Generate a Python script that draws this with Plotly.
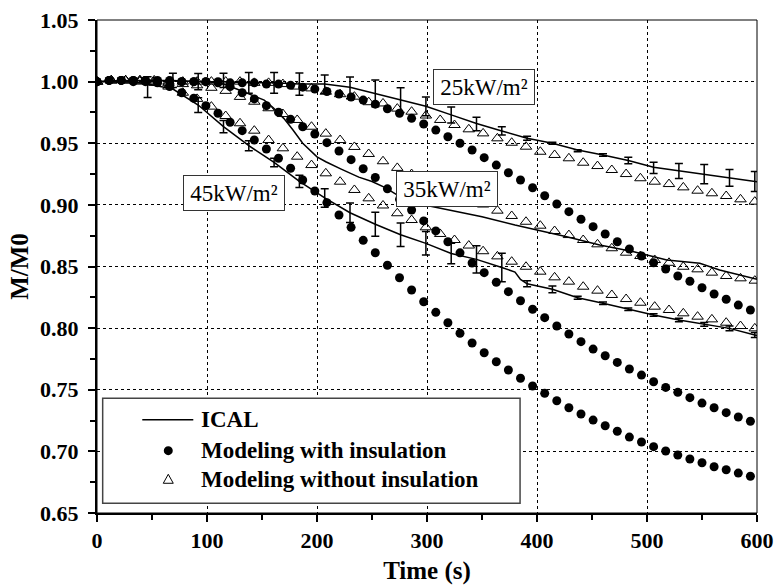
import plotly.graph_objects as go

# ---------------- data ----------------
t_dot = [0, 11, 22, 33, 44, 55, 66, 77, 88, 99, 110, 121, 132, 143, 154, 165, 176, 187, 198,
         209, 220, 231, 242, 253, 264, 275, 286, 297, 308, 319, 330, 341, 352, 363, 374, 385,
         396, 407, 418, 429, 440, 451, 462, 473, 484, 495, 506, 517, 528, 539, 550, 561, 572,
         583, 594]
t_tri = [0, 13, 26, 39, 52, 65, 78, 91, 104, 117, 130, 143, 156, 169, 182, 195, 208, 221, 234,
         247, 260, 273, 286, 299, 312, 325, 338, 351, 364, 377, 390, 403, 416, 429, 442, 455,
         468, 481, 494, 507, 520, 533, 546, 559, 572, 585, 598]

with25 = [1.000, 1.001, 1.001, 1.001, 1.001, 1.001, 1.001, 1.000, 1.000, 1.000, 1.000, 0.999,
          0.999, 0.999, 0.998, 0.998, 0.997, 0.9955, 0.994, 0.992, 0.990, 0.9875, 0.985, 0.9817,
          0.978, 0.9743, 0.9702, 0.9656, 0.9607, 0.9553, 0.9500, 0.9445, 0.9383, 0.9323, 0.9261,
          0.9202, 0.9139, 0.9074, 0.9007, 0.8945, 0.8883, 0.8823, 0.8764, 0.8701, 0.8642, 0.8585,
          0.8530, 0.8480, 0.8423, 0.8380, 0.8328, 0.8277, 0.8234, 0.8187, 0.8147]
with35 = [1.000, 1.001, 1.001, 1.001, 1.001, 1.000, 1.000, 1.000, 1.000, 1.000, 0.999, 0.996,
          0.991, 0.986, 0.9805, 0.9752, 0.9694, 0.9634, 0.9575, 0.9505, 0.9437, 0.9367, 0.9293,
          0.9222, 0.9130, 0.9045, 0.8958, 0.8870, 0.8789, 0.8701, 0.8611, 0.8528, 0.8450, 0.8372,
          0.8296, 0.8222, 0.8153, 0.8085, 0.8017, 0.7952, 0.7890, 0.7830, 0.7776, 0.7722, 0.7668,
          0.7619, 0.7565, 0.7519, 0.7479, 0.7436, 0.7392, 0.7354, 0.7314, 0.7279, 0.7244]
with45 = [1.000, 1.001, 1.001, 1.000, 1.000, 0.999, 0.996, 0.991, 0.9865, 0.9805, 0.9743, 0.9670,
          0.9602, 0.9526, 0.9453, 0.9378, 0.9297, 0.9202, 0.9113, 0.9018, 0.8918, 0.8818, 0.8712,
          0.8612, 0.8510, 0.8409, 0.8309, 0.8214, 0.8128, 0.8044, 0.7958, 0.7879, 0.7800, 0.7727,
          0.7660, 0.7593, 0.7530, 0.7471, 0.7411, 0.7354, 0.7303, 0.7254, 0.7208, 0.7163, 0.7116,
          0.7076, 0.7038, 0.7003, 0.6970, 0.6938, 0.6908, 0.6875, 0.6851, 0.6824, 0.6798]

without25 = [1.000, 1.001, 1.001, 1.001, 1.001, 1.000, 1.000, 1.000, 1.000, 1.000, 1.000, 0.999,
             0.999, 0.998, 0.996, 0.9945, 0.9918, 0.9898, 0.9878, 0.9833, 0.9823, 0.9781, 0.9756,
             0.9725, 0.9689, 0.9648, 0.9613, 0.9580, 0.9540, 0.9504, 0.9472, 0.9431, 0.9405,
             0.9378, 0.9342, 0.9315, 0.9283, 0.9250, 0.9216, 0.9188, 0.9169, 0.9142, 0.9115,
             0.9094, 0.9072, 0.9045, 0.9026]
without35 = [1.000, 1.001, 1.001, 1.001, 1.000, 0.999, 0.998, 0.997, 0.995, 0.9925, 0.9876, 0.9837,
             0.9784, 0.9737, 0.9689, 0.9634, 0.9578, 0.9526, 0.9470, 0.9413, 0.9354, 0.9300, 0.925,
             0.920, 0.914, 0.909, 0.904, 0.9003, 0.8953, 0.8910, 0.8863, 0.8831, 0.8788, 0.8755,
             0.8715, 0.8680, 0.8648, 0.8612, 0.8585, 0.8553, 0.8530, 0.8498, 0.8477, 0.8450,
             0.8423, 0.8404, 0.8385]
without45 = [1.000, 1.001, 1.001, 1.000, 0.999, 0.996, 0.991, 0.986, 0.9797, 0.9721, 0.9662, 0.9602,
             0.9526, 0.9459, 0.9391, 0.9323, 0.9256, 0.9188, 0.9121, 0.9053, 0.8995, 0.8932, 0.8877,
             0.8818, 0.8764, 0.8715, 0.8670, 0.8624, 0.8582, 0.8539, 0.8498, 0.8458, 0.8412,
             0.8377, 0.8336, 0.8304, 0.8269, 0.8236, 0.8206, 0.8174, 0.8147, 0.8120, 0.8093,
             0.8071, 0.8044, 0.8017, 0.7998]

# ICAL measured curves
ical25_t = [0, 23, 46, 69, 92, 115, 138, 161, 184, 207, 230, 253, 276, 299, 322, 345, 368, 391,
            414, 437, 460, 483, 506, 529, 552, 575, 598, 600]
ical25_v = [1.000, 1.001, 1.001, 1.001, 1.000, 1.000, 0.999, 0.999, 0.998, 0.998, 0.9955, 0.9905,
            0.985, 0.980, 0.973, 0.966, 0.960, 0.954, 0.950, 0.9445, 0.9405, 0.936, 0.9305,
            0.9275, 0.925, 0.922, 0.919, 0.9188]
ical35_t = [0, 50, 100, 115, 127, 140, 152, 160, 170, 178, 187, 200, 208, 222, 238, 250, 262,
            272, 285, 300, 322, 350, 380, 403, 427, 457, 488, 518, 548, 566, 600]
ical35_v = [1.000, 1.001, 1.000, 0.998, 0.994, 0.989, 0.985, 0.979, 0.970, 0.961, 0.950, 0.939,
            0.935, 0.929, 0.9225, 0.919, 0.914, 0.9085, 0.9025, 0.8995, 0.8953, 0.8904, 0.8837,
            0.879, 0.8742, 0.8674, 0.862, 0.8553, 0.8526, 0.8472, 0.8396]
ical45_t = [0, 23, 46, 69, 92, 115, 138, 161, 184, 207, 230, 253, 276, 299, 322, 345, 368, 380,
            385, 391, 414, 437, 460, 483, 506, 529, 552, 575, 598, 600]
ical45_v = [1.000, 1.001, 0.998, 0.994, 0.981, 0.9635, 0.948, 0.9344, 0.919, 0.9056, 0.8936,
            0.8843, 0.8758, 0.8688, 0.8605, 0.8558, 0.8492, 0.8455, 0.8395, 0.836, 0.8315, 0.8246,
            0.8201, 0.8153, 0.8106, 0.8066, 0.8031, 0.7998, 0.7944, 0.7940]

# ICAL error bars (time, centre, half-height)
err25_t = [69, 92, 115, 138, 161, 184, 207, 230, 253, 276, 299, 322, 345, 368, 391, 414, 437,
           460, 483, 506, 529, 552, 575, 598]
err25_c = [1.001, 1.000, 1.001, 0.999, 0.999, 0.998, 0.998, 0.995, 0.9905, 0.985, 0.980, 0.973,
           0.9656, 0.960, 0.954, 0.950, 0.944, 0.9405, 0.936, 0.930, 0.9275, 0.925, 0.922, 0.919]
err25_h = [0.0057, 0.0065, 0.0057, 0.0084, 0.0084, 0.009, 0.0074, 0.0088, 0.0108, 0.0100, 0.0076,
           0.0065, 0.0054, 0.0034, 0.0016, 0.0008, 0.0008, 0.001, 0.0026, 0.0045, 0.0061, 0.0078,
           0.0068, 0.0081]
err45_t = [46, 92, 115, 138, 161, 184, 207, 230, 253, 276, 299, 322, 345, 368, 391, 414, 437,
           460, 483, 506, 529, 552, 575, 598]
err45_c = [0.9956, 0.981, 0.9635, 0.948, 0.9344, 0.919, 0.9056, 0.8936, 0.8843, 0.8758, 0.8688,
           0.8605, 0.8558, 0.8492, 0.836, 0.8315, 0.8246, 0.8201, 0.8153, 0.8106, 0.8066, 0.8031,
           0.7998, 0.7944]
err45_h = [0.0084, 0.006, 0.005, 0.004, 0.0035, 0.005, 0.0075, 0.008, 0.0097, 0.0095, 0.0095,
           0.0083, 0.0111, 0.0115, 0.0025, 0.0027, 0.0012, 0.001, 0.001, 0.001, 0.0015, 0.0015,
           0.002, 0.002]

flux_labels = ["25kW/m²", "35kW/m²", "45kW/m²"]
label_x = [352.0, 318.6, 124.3]
label_y = [0.9958, 0.913, 0.9099]

legend_names = ["ICAL", "Modeling with insulation", "Modeling without insulation"]

# ---------------- figure ----------------
SERIF = "Liberation Serif, Times New Roman, serif"
fig = go.Figure()

for vals in [with25, with35, with45]:
    fig.add_trace(go.Scatter(
        x=t_dot, y=vals, mode="markers", name=legend_names[1], showlegend=False,
        marker=dict(symbol="circle", size=9, color="black", line=dict(width=0))))

for vals in [without25, without35, without45]:
    fig.add_trace(go.Scatter(
        x=t_tri, y=vals, mode="markers", name=legend_names[2], showlegend=False,
        marker=dict(symbol="triangle-up-open", size=10, color="black", line=dict(width=1))))

for tt, vv in [(ical25_t, ical25_v), (ical35_t, ical35_v), (ical45_t, ical45_v)]:
    fig.add_trace(go.Scatter(
        x=tt, y=vv, mode="lines", name=legend_names[0], showlegend=False,
        line=dict(color="black", width=1.5)))

for tt, cc, hh in [(err25_t, err25_c, err25_h), (err45_t, err45_c, err45_h)]:
    fig.add_trace(go.Scatter(
        x=tt, y=cc, mode="markers", showlegend=False, hoverinfo="skip",
        marker=dict(size=1, color="rgba(0,0,0,0)"),
        error_y=dict(type="data", array=hh, visible=True, color="black",
                     thickness=1.5, width=4)))

for txt, lx, ly in zip(flux_labels, label_x, label_y):
    fig.add_annotation(x=lx, y=ly, xref="x", yref="y", text=txt, showarrow=False,
                       font=dict(family=SERIF, size=23, color="black"),
                       bgcolor="white", bordercolor="#333333", borderwidth=1,
                       borderpad=3, width=94, height=28)

# ---------------- legend (drawn as a boxed key) ----------------
fig.add_shape(type="rect", xref="paper", yref="paper",
              x0=0.0086, x1=0.641, y0=0.0197, y1=0.2327,
              line=dict(color="#444444", width=1.5), fillcolor="white", layer="above")
key_x_sym = 0.108
key_x_text = 0.1545
key_rows = [0.1893, 0.1264, 0.0684]
# ICAL line sample
fig.add_shape(type="line", xref="paper", yref="paper",
              x0=0.0686, x1=0.1459, y0=key_rows[0], y1=key_rows[0],
              line=dict(color="black", width=1.5), layer="above")
# filled circle
fig.add_shape(type="circle", xref="paper", yref="paper",
              xsizemode="pixel", ysizemode="pixel",
              xanchor=key_x_sym, yanchor=key_rows[1],
              x0=-4.5, x1=4.5, y0=-4.5, y1=4.5,
              fillcolor="black", line=dict(color="black", width=0), layer="above")
# open triangle
fig.add_shape(type="path", xref="paper", yref="paper",
              xsizemode="pixel", ysizemode="pixel",
              xanchor=key_x_sym, yanchor=key_rows[2],
              path="M -5 -4 L 5 -4 L 0 5 Z",
              fillcolor="rgba(0,0,0,0)", line=dict(color="black", width=1), layer="above")
for name, yy in zip(legend_names, key_rows):
    fig.add_annotation(x=key_x_text, y=yy, xref="paper", yref="paper", text=name,
                       showarrow=False, xanchor="left", yanchor="middle",
                       font=dict(family=SERIF, size=23, color="black", weight="bold"))

# thin frame on top / right
fig.add_shape(type="rect", xref="paper", yref="paper", x0=0, x1=1, y0=0, y1=1,
              line=dict(color="black", width=1), layer="above")

axis_common = dict(
    showline=True, linecolor="black", linewidth=2, mirror=False,
    ticks="outside", ticklen=7, tickwidth=1.5, tickcolor="black",
    showgrid=True, gridcolor="black", gridwidth=1, griddash="3px,3px",
    zeroline=False, automargin=False,
    tickfont=dict(family=SERIF, size=22, color="black", weight="bold"),
)

fig.update_xaxes(range=[0, 600], dtick=100, tick0=0,
                 minor=dict(dtick=50, ticklen=5, tickwidth=1.5, tickcolor="black",
                            ticks="outside", showgrid=False),
                 title=dict(text="Time (s)", standoff=10,
                            font=dict(family=SERIF, size=25, color="black", weight="bold")),
                 **axis_common)
fig.update_yaxes(range=[0.65, 1.05], dtick=0.05, tick0=0.65, tickformat=".2f",
                 ticklabelstandoff=5,
                 minor=dict(dtick=0.025, ticklen=5, tickwidth=1.5, tickcolor="black",
                            ticks="outside", showgrid=False),
                 title=dict(text="M/M0", standoff=4,
                            font=dict(family=SERIF, size=25, color="black", weight="bold")),
                 **axis_common)

fig.update_layout(
    width=777, height=585,
    margin=dict(l=97, r=20, t=20, b=72),
    paper_bgcolor="white", plot_bgcolor="white",
    showlegend=False,
)

fig.write_html("out.html")
